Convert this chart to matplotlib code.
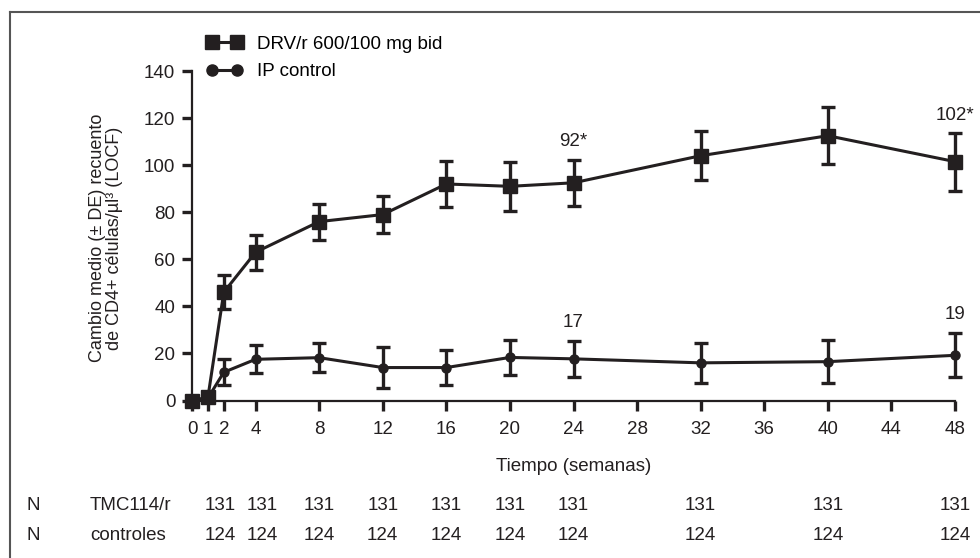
import matplotlib
matplotlib.use('Agg')
from matplotlib import pyplot as plt
from matplotlib.lines import Line2D
import matplotlib.transforms as mtransforms

plt.rcParams['font.family'] = ['Liberation Sans', 'DejaVu Sans']

# semanas
semanas = [0, 1, 2, 4, 8, 12, 16, 20, 24, 32, 40, 48]

# DRV/r 600/100 mg bid
drv_media = [0, 1.3, 46, 63, 76, 79, 92, 91, 92.5, 104, 112.5, 101.5]
drv_de = [0, 0, 7.3, 7.5, 7.7, 7.8, 9.7, 10.3, 9.8, 10.5, 12, 12.3]

# IP control
ip_media = [0, 1, 12, 17.5, 18.2, 14, 14, 18.3, 17.7, 16, 16.5, 19.2]
ip_de = [0, 0, 5.5, 6, 6.3, 8.7, 7.6, 7.6, 7.6, 8.6, 9.2, 9.4]

xticks = [0, 1, 2, 4, 8, 12, 16, 20, 24, 28, 32, 36, 40, 44, 48]

# posicion (semana) de cada columna N; las dos primeras algo separadas
n_semanas = [1.8, 4.4, 8, 12, 16, 20, 24, 32, 40, 48]
n_drv = [131, 131, 131, 131, 131, 131, 131, 131, 131, 131]
n_ctrl = [124, 124, 124, 124, 124, 124, 124, 124, 124, 124]

# etiquetas sobre los puntos
notas = [(24, 110, '92*'), (24, 33, '17'), (48, 121, '102*'), (48, 36.5, '19')]

negro = '#231f20'
fs = 13.5

fig = plt.figure(figsize=(9.8, 5.58), dpi=100)
ax = fig.add_axes([192/980, 1-400.5/558, (955-192)/980, (400.5-71)/558])

ax.errorbar(semanas, drv_media, yerr=drv_de, color=negro, lw=2.2, marker='s', ms=10,
            capsize=5, capthick=2.4, elinewidth=2.4, clip_on=False, zorder=3)
ax.errorbar(semanas, ip_media, yerr=ip_de, color=negro, lw=2.2, marker='o', ms=6.5,
            capsize=5, capthick=2.4, elinewidth=2.4, clip_on=False, zorder=3)

ax.set_xlim(0, 48)
ax.set_ylim(0, 140)
ax.set_xticks(xticks)
ax.set_yticks(range(0, 141, 20))
ax.tick_params(axis='both', direction='out', length=7, width=2.4, color=negro,
               labelsize=fs, colors='#231f20')
ax.tick_params(axis='x', pad=8)
ax.tick_params(axis='y', pad=5)
for s in ['top', 'right']:
    ax.spines[s].set_visible(False)
for s in ['left', 'bottom']:
    ax.spines[s].set_linewidth(1.6)
    ax.spines[s].set_color(negro)

ax.set_xlabel('Tiempo (semanas)', fontsize=fs, labelpad=14, color=negro)
fig.text(106/980, 1-238/558, 'Cambio medio (± DE) recuento\nde CD4+ células/µl³ (LOCF)',
         rotation=90, ha='center', va='center', fontsize=13, color=negro,
         linespacing=1.05)

for x, y, t in notas:
    ax.text(x, y, t, ha='center', va='center', fontsize=fs, color=negro)

h1 = Line2D([], [], color=negro, lw=2.2, marker='s', ms=10)
h2 = Line2D([], [], color=negro, lw=2.2, marker='o', ms=8)
ax.legend([h1, h2], ['DRV/r 600/100 mg bid', 'IP control'], loc='upper left',
          bbox_to_anchor=(7/763, 1.13), frameon=False, numpoints=2, handlelength=1.9,
          handletextpad=0.8, fontsize=fs, labelspacing=0.55, borderaxespad=0)

# tabla N
trans = mtransforms.blended_transform_factory(ax.transData, fig.transFigure)
y1 = 1-506/558
y2 = 1-535/558
fig.text(33/980, y1, 'N', ha='center', va='center', fontsize=fs, color=negro)
fig.text(33/980, y2, 'N', ha='center', va='center', fontsize=fs, color=negro)
fig.text(90/980, y1, 'TMC114/r', ha='left', va='center', fontsize=fs, color=negro)
fig.text(90/980, y2, 'controles', ha='left', va='center', fontsize=fs, color=negro)
for x, a, b in zip(n_semanas, n_drv, n_ctrl):
    ax.text(x, y1, str(a), transform=trans, ha='center', va='center', fontsize=fs, color=negro)
    ax.text(x, y2, str(b), transform=trans, ha='center', va='center', fontsize=fs, color=negro)

# marco
fig.add_artist(Line2D([10/980, 10/980], [0, 1-11.5/558], transform=fig.transFigure,
                      color='#555555', lw=1.5))
fig.add_artist(Line2D([10/980, 1], [1-11.5/558, 1-11.5/558], transform=fig.transFigure,
                      color='#555555', lw=1.5))

fig.savefig('out.png', dpi=100)
